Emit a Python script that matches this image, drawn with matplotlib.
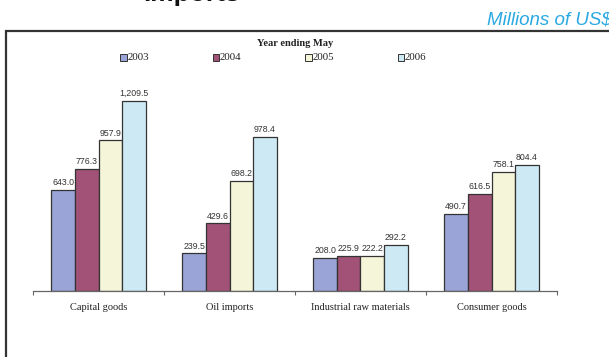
import matplotlib.pyplot as plt
import numpy as np
from matplotlib.patches import Rectangle

# Import values by category, millions of US$
categories = ["Capital goods", "Oil imports", "Industrial raw materials", "Consumer goods"]
years = ["2003", "2004", "2005", "2006"]
values_2003 = [643.0, 239.5, 208.0, 490.7]
values_2004 = [776.3, 429.6, 225.9, 616.5]
values_2005 = [957.9, 698.2, 222.2, 758.1]
values_2006 = [1209.5, 978.4, 292.2, 804.4]
series = [values_2003, values_2004, values_2005, values_2006]

colors = ["#9aa4d6", "#a25276", "#f5f5d9", "#cde9f4"]
edge = "#333333"

W, H = 609, 357
fig = plt.figure(figsize=(W / 100, H / 100), dpi=100)


def fx(px):
    return px / W


def fy(py):
    return 1 - py / H


# outer frame (runs off the right and bottom edges)
fig.patches.append(Rectangle((fx(6), fy(400)), fx(700), fy(31) - fy(400),
                             transform=fig.transFigure, fill=False,
                             edgecolor="#333333", linewidth=1.6))

# page heading, cut off at the top
fig.text(fx(143), fy(0.5), "Imports", fontsize=19, fontweight="bold",
         family="Liberation Sans", ha="left", va="baseline", color="#111111")
fig.text(fx(487), fy(24), "Millions of US$", fontsize=13.5, style="italic",
         family="Liberation Sans", color="#2aa9e2", ha="left", va="baseline")

fig.text(fx(295), fy(43), "Year ending May", fontsize=7.5, fontweight="bold",
         family="Liberation Serif", ha="center", va="center", color="#222222")

# legend
for i, (yr, c) in enumerate(zip(years, colors)):
    x0 = 120 + i * 92.5
    fig.patches.append(Rectangle((fx(x0), fy(60.5)), fx(6.5), fy(54) - fy(60.5),
                                 transform=fig.transFigure, facecolor=c,
                                 edgecolor=edge, linewidth=0.7))
    fig.text(fx(x0 + 7.5), fy(57), yr, fontsize=7.8, family="Liberation Serif",
             ha="left", va="center", color="#222222")

ax = fig.add_axes([fx(33), fy(291), fx(557) - fx(33), fy(71) - fy(291)])
x = np.arange(len(categories))
width = 0.18
for i, (vals, c) in enumerate(zip(series, colors)):
    pos = x + (i - 1.5) * width
    bars = ax.bar(pos, vals, width, color=c, edgecolor=edge, linewidth=0.9)
    for b, v in zip(bars, vals):
        ax.text(b.get_x() + b.get_width() / 2, v + 18, f"{v:,.1f}",
                ha="center", va="bottom", fontsize=6.3,
                family="Liberation Sans", color="#333333")

ax.set_xlim(-0.5, len(categories) - 0.5)
ax.set_ylim(0, 1400)
for s in ["top", "right", "left"]:
    ax.spines[s].set_visible(False)
ax.spines["bottom"].set_color("#666666")
ax.spines["bottom"].set_linewidth(0.9)
ax.set_yticks([])
ax.set_xticks(np.arange(len(categories) + 1) - 0.5)
ax.set_xticklabels([])
ax.tick_params(axis="x", length=3, width=0.8, color="#666666")
ax.set_xticks(x, minor=True)
ax.set_xticklabels(categories, minor=True, fontsize=7.5,
                   family="Liberation Serif", color="#222222")
ax.tick_params(axis="x", which="minor", length=0, pad=9)

fig.savefig("out.png", dpi=100)
